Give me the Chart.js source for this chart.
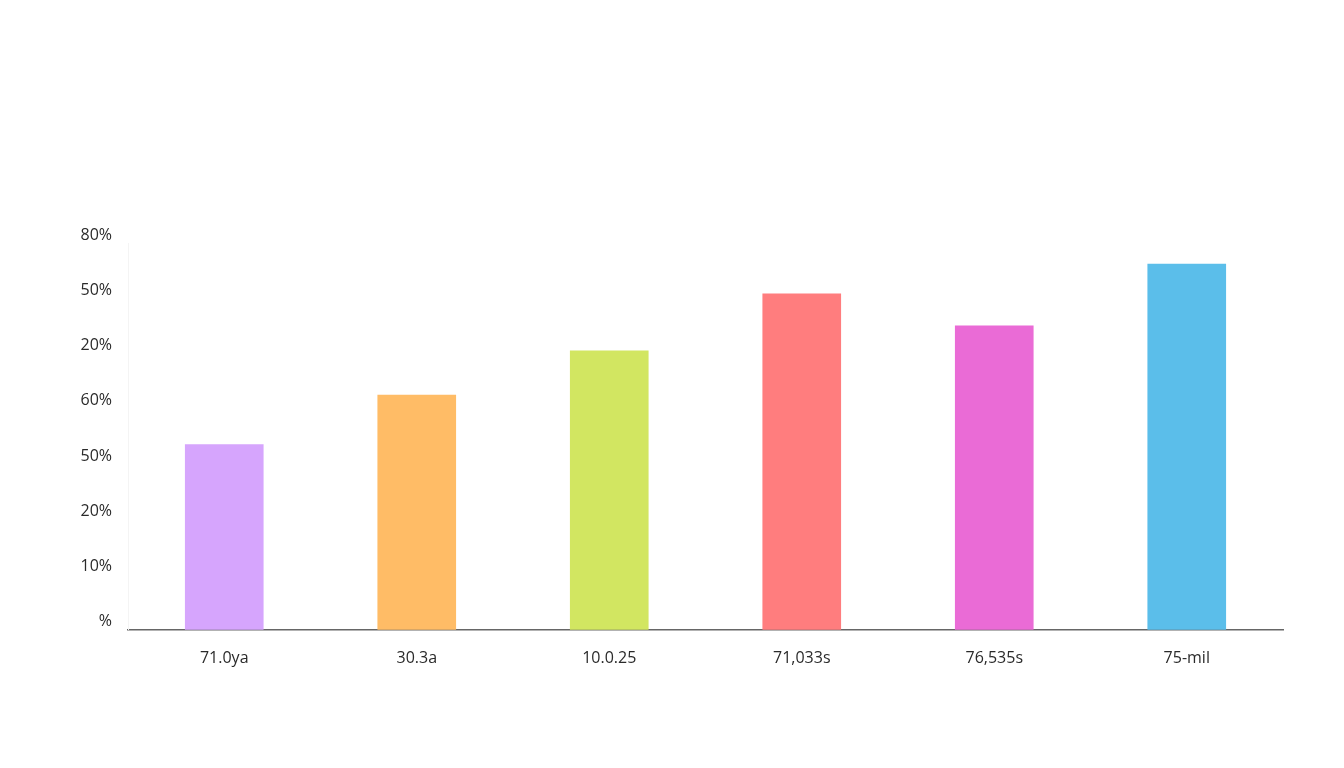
<!DOCTYPE html>
<html><head><meta charset="utf-8">
<script src="https://cdn.jsdelivr.net/npm/chart.js@4"></script>
<style>html,body{margin:0;padding:0;background:#fff}#wrap{width:1344px;height:768px}</style>
</head><body><div id="wrap"><canvas id="c" width="1344" height="768"></canvas></div>
<script>
const categories = ["71.0ya", "30.3a", "10.0.25", "71,033s", "76,535s", "75-mil"];
const values = [3.35, 4.25, 5.05, 6.08, 5.5, 6.62];
const yTickLabels = ["%", "10%", "20%", "50%", "60%", "20%", "50%", "80%"];
const barColors = ["#D6A5FD", "#FFBC66", "#D2E661", "#FF7D7E", "#EA6BD6", "#5BBEEA"];

new Chart(document.getElementById('c'), {
  type: 'bar',
  data: { labels: categories, datasets: [{ data: values, backgroundColor: barColors, barThickness: 78 }] },
  options: {
    responsive: false, animation: false,
    layout: { padding: { top: 243, right: 61, bottom: 89, left: 0 } },
    plugins: { legend: { display: false }, tooltip: { enabled: false } },
    scales: {
      x: {
        grid: { display: false },
        border: { display: true, color: '#666', width: 1.5 },
        ticks: { color: '#2a2a2a', font: { family: 'Open Sans', size: 16 }, padding: 11 }
      },
      y: {
        min: 0, max: 7,
        afterFit: s => { s.width = 128; },
        grid: { display: false, drawTicks: false },
        border: { display: true, color: '#f4f4f4', width: 1 },
        ticks: { stepSize: 1, color: '#2a2a2a', font: { family: 'Open Sans', size: 16 }, padding: 16, labelOffset: -8,
          callback: v => yTickLabels[v] }
      }
    }
  }
});
</script></body></html>
